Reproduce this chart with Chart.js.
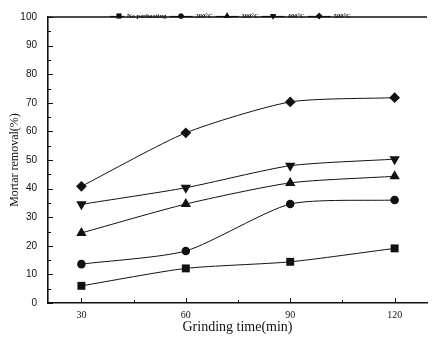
<!DOCTYPE html>
<html>
<head>
<meta charset="utf-8">
<script src="https://cdn.jsdelivr.net/npm/chart.js@4"></script>
<style>
  body { margin: 0; background: #fff; }
  #wrap { width: 433px; height: 344px; }
</style>
</head>
<body>
<div id="wrap"><canvas id="chart" width="433" height="344"></canvas></div>
<script>
// grinding time (min) and mortar removal (%) per preheating temperature
const grindTimes = [30, 60, 90, 120];
const seriesNames = ['No perheating', '200\u00b0C', '300\u00b0C', '400\u00b0C', '500\u00b0C'];
const noPreheat = [6.0, 12.1, 14.4, 19.1];
const heat200 = [13.6, 18.2, 34.6, 36.0];
const heat300 = [24.5, 34.6, 42.0, 44.3];
const heat400 = [34.5, 40.3, 48.0, 50.3];
const heat500 = [40.8, 59.5, 70.3, 71.8];
const xTicks = [30, 60, 90, 120];
const yTicks = [0, 10, 20, 30, 40, 50, 60, 70, 80, 90, 100];

const markers = [
    { style: 'rect', radius: 5.6, rotation: 0 },
    { style: 'circle', radius: 4.3, rotation: 0 },
    { style: 'triangle', radius: 6, rotation: 0 },
    { style: 'triangle', radius: 6, rotation: 180 },
    { style: 'rectRot', radius: 5.4, rotation: 0 }
];
const allSeries = [noPreheat, heat200, heat300, heat400, heat500];

const datasets = allSeries.map((vals, i) => ({
    label: seriesNames[i],
    data: grindTimes.map((t, j) => ({ x: t, y: vals[j] })),
    borderColor: '#111',
    backgroundColor: '#111',
    borderWidth: 1,
    tension: 0.22,
    pointStyle: markers[i].style,
    pointRadius: markers[i].radius,
    pointRotation: markers[i].rotation,
    pointBorderWidth: 0
}));

// top frame line plus inward tick marks on both axes
const framePlugin = {
    id: 'frame',
    afterDraw(chart) {
        const ctx = chart.ctx;
        const area = chart.chartArea;
        const xs = chart.scales.x;
        const ys = chart.scales.y;
        ctx.save();
        ctx.strokeStyle = '#111';
        ctx.lineWidth = 1.5;
        ctx.beginPath();
        ctx.moveTo(area.left, area.top);
        ctx.lineTo(area.right, area.top);
        ctx.stroke();
        ctx.lineWidth = 1;
        ctx.beginPath();
        for (let v = 0; v <= 100; v += 5) {
            const y = Math.round(ys.getPixelForValue(v)) + 0.5;
            const len = v % 10 === 0 ? 5 : 3;
            ctx.moveTo(area.left, y);
            ctx.lineTo(area.left + len, y);
        }
        for (let v = 30; v <= 120; v += 15) {
            const x = Math.round(xs.getPixelForValue(v)) + 0.5;
            const len = v % 30 === 0 ? 5 : 3;
            ctx.moveTo(x, area.bottom);
            ctx.lineTo(x, area.bottom - len);
        }
        ctx.stroke();
        ctx.restore();
    }
};

// one-row legend inside the plot, line sample with marker
const legendPlugin = {
    id: 'rowLegend',
    afterDraw(chart) {
        const ctx = chart.ctx;
        ctx.save();
        ctx.font = 'bold 6.5px "Liberation Serif"';
        ctx.textBaseline = 'middle';
        ctx.fillStyle = '#111';
        ctx.strokeStyle = '#111';
        let x = 110;
        const y = 16;
        chart.data.datasets.forEach((ds, i) => {
            const sw = i === 0 ? 14 : 23;
            const mx = i === 0 ? x + 9 : x + sw / 2;
            ctx.lineWidth = 1.2;
            ctx.beginPath();
            ctx.moveTo(x, y + 0.5);
            ctx.lineTo(x + sw, y + 0.5);
            ctx.stroke();
            Chart.helpers.drawPoint(ctx, {
                pointStyle: ds.pointStyle,
                rotation: ds.pointRotation,
                radius: ds.pointRadius * 0.6,
                borderWidth: 0
            }, mx, y);
            ctx.fill();
            x += sw + 3;
            ctx.fillText(ds.label, x, y);
            x += ctx.measureText(ds.label).width + 3;
        });
        ctx.restore();
    }
};

const ctx = document.getElementById('chart').getContext('2d');
new Chart(ctx, {
    type: 'line',
    data: { datasets: datasets },
    plugins: [framePlugin, legendPlugin],
    options: {
        responsive: false,
        animation: false,
        layout: { padding: { top: 12, right: 0, left: 0, bottom: 0 } },
        plugins: { legend: { display: false }, tooltip: { enabled: false } },
        scales: {
            x: {
                type: 'linear',
                min: 20.4,
                max: 129.3,
                afterBuildTicks: scale => { scale.ticks = xTicks.map(v => ({ value: v })); },
                afterFit: scale => { scale.height = 41; },
                grid: { display: true, drawOnChartArea: false, drawTicks: false },
                border: { color: '#111', width: 1.6 },
                ticks: {
                    padding: 6,
                    color: '#111',
                    font: { family: '"Liberation Serif"', size: 10 }
                },
                title: {
                    display: true,
                    text: 'Grinding time(min)',
                    color: '#111',
                    font: { family: '"Liberation Serif"', size: 14 },
                    padding: { top: 0, bottom: 8 }
                }
            },
            y: {
                min: 0,
                max: 100,
                afterBuildTicks: scale => { scale.ticks = yTicks.map(v => ({ value: v })); },
                afterFit: scale => { scale.width = 48; },
                grid: { display: true, drawOnChartArea: false, drawTicks: false },
                border: { color: '#111', width: 1.6 },
                ticks: {
                    padding: 11,
                    color: '#111',
                    font: { family: '"Liberation Sans"', size: 10 }
                },
                title: {
                    display: true,
                    text: 'Mortar removal(%)',
                    color: '#111',
                    font: { family: '"Liberation Serif"', size: 12 },
                    padding: { top: 8, bottom: 0 }
                }
            }
        }
    }
});
</script>
</body>
</html>
